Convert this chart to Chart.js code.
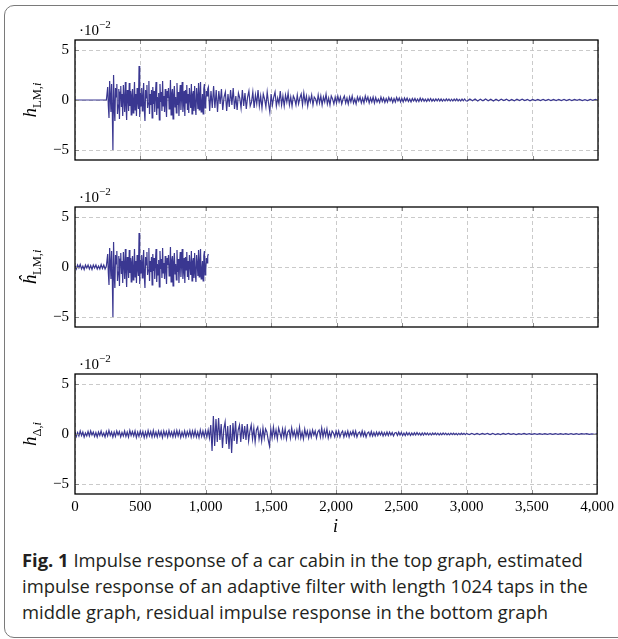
<!DOCTYPE html>
<html>
<head>
<meta charset="utf-8">
<script src="https://cdn.jsdelivr.net/npm/chart.js@4/dist/chart.umd.min.js"></script>
<style>
  html, body { margin: 0; padding: 0; background: #fff; }
  body { width: 618px; height: 639px; position: relative; overflow: hidden; }
  .frame {
    position: absolute; left: 4px; top: 5px; width: 660px; height: 631px;
    border: 1.5px solid #7a7a7a; border-radius: 10px;
  }
  canvas.panel { position: absolute; left: 0; width: 618px; }
  .math { position: absolute; font-family: "Liberation Serif", "DejaVu Serif", serif; color: #000; white-space: nowrap; }
  .scale { font-size: 15px; left: 79px; }
  .scale sup { font-size: 11px; position: relative; top: -1px; }
  .ylab { font-size: 19px; left: 32px; transform: translate(-50%, -50%) rotate(-90deg); }
  .ylab sub { font-size: 12.5px; font-style: normal; }
  .xlab { font-size: 18px; font-style: italic; left: 333px; top: 516px; }
  .caption {
    position: absolute; left: 22px; top: 547px; width: 600px;
    font-family: "Open Sans", "Noto Sans", sans-serif; font-size: 18.4px; line-height: 26px;
    color: #231f20; white-space: nowrap;
  }
  .caption b { font-weight: 700; }
</style>
</head>
<body>
<div class="frame"></div>

<canvas class="panel" id="topChart" width="618" height="150"></canvas>
<canvas class="panel" id="midChart" width="618" height="150"></canvas>
<canvas class="panel" id="botChart" width="618" height="180"></canvas>

<div class="math scale" style="top:19px">·10<sup>−2</sup></div>
<div class="math scale" style="top:186px">·10<sup>−2</sup></div>
<div class="math scale" style="top:353px">·10<sup>−2</sup></div>

<div class="math ylab" style="top:100px"><i>h</i><sub>LM,<i>i</i></sub></div>
<div class="math ylab" style="top:267px"><i>ĥ</i><sub>LM,<i>i</i></sub></div>
<div class="math ylab" style="top:434px"><i>h</i><sub>Δ,<i>i</i></sub></div>

<div class="math xlab">i</div>

<div class="caption"><b>Fig. 1</b> Impulse response of a car cabin in the top graph, estimated<br>impulse response of an adaptive filter with length 1024 taps in the<br>middle graph, residual impulse response in the bottom graph</div>

<script>
const xTicks = [0, 500, 1000, 1500, 2000, 2500, 3000, 3500, 4000];
const yTicks = [-5, 0, 5];

// top graph, taps 0..240 every 10 (silent before the direct sound)
const topPreOnset = [0, 0, 0, 0, 0, 0, 0, 0, 0, 0, 0, 0, 0, 0, 0, 0, 0, 0, 0, 0, 0, 0, 0, 0, 0];

// taps 250..1020 every 5, same shape in the top and middle graph
const onsetTaps = [
  1.3, -0.6, -1.8, 1.9, 0.4, -1.2, 1.6, -0.9, -5.0, 2.5,
  -0.8, -2.1, 1.2, 0.3, 1.6, -1.4, -0.5, 1.1, -1.9, 0.8,
  1.4, -0.7, 0.6, -1.6, 1.5, 0.2, -1.2, 1.8, -0.4, -2.0,
  1.0, 0.4, -1.1, 1.7, -0.6, 0.9, -1.5, 0.5, 1.1, -1.3,
  -0.3, 1.8, -1.0, 0.6, -1.6, 1.2, -0.2, -0.9, 3.4, -1.7,
  0.7, -0.6, 1.2, -1.1, 0.3, 1.7, -0.9, -2.1, 1.0, 0.2,
  1.5, -0.8, -0.3, 1.9, -1.4, 0.6, -0.5, 1.0, -1.8, 1.3,
  -0.4, 0.9, -1.2, 0.5, 1.8, -1.5, 0.3, -0.8, 0.7, -2.0,
  1.6, -0.2, 0.8, -1.1, 1.9, -0.6, 0.4, -1.2, 1.1, -0.3,
  -1.7, 0.9, 0.2, 1.2, -0.9, -0.4, 2.0, -1.5, 0.6, 1.1,
  -1.9, 0.5, 1.4, -0.7, 0.3, -1.3, 1.7, -0.5, 0.8, -1.6,
  0.4, 1.5, -1.0, 0.2, 1.8, -1.2, -0.4, 0.9, -1.6, 1.0,
  -0.3, 1.5, -1.0, 0.6, -1.3, 1.2, 0.1, -0.8, 1.6, -1.4,
  0.5, 0.9, -1.1, 1.4, -0.6, -1.5, 1.2, 0.3, -0.9, 1.7,
  -1.0, 0.4, 1.8, -1.2, -0.5, 0.6, -1.4, 1.1, 1.6, -0.8,
  -0.3, 0.9, 0.4, 1.1, 1.3
];

// top graph, taps 1030..2990 every 10
const topLate = [
  -1.1, 0.9, -0.8, 1.4, -0.8, 1.0, -1.2,
  0.9, -0.4, 1.1, -1.0, 0.3, 0.8, -1.1, 0.6, -0.7, 1.0,
  -0.5, 1.2, -0.9, 0.4, -1.0, 0.7, 0.2, -0.8, 1.0, -0.6,
  0.7, -0.9, 0.3, 0.9, -0.6, -0.2, 0.8, -0.8, 0.5, -0.4,
  1.0, -0.6, 0.4, -0.8, 0.6, 0.1, -0.7, 0.8, -0.3, -1.2,
  0.6, -0.5, 0.3, 0.8, -0.6, 0.2, -0.4, 0.9, -0.5, 0.4,
  -0.6, 0.5, -0.2, 0.7, -0.5, 0.3, -0.6, 0.4, 0.1, -0.5,
  0.5, -0.4, 0.2, 0.6, -0.5, 0.7, -0.3, 0.4, -0.6, 0.3,
  -0.2, 0.5, -0.5, 0.3, 0.1, -0.4, 0.5, -0.3, 0.4, -0.5,
  0.3, -0.2, 0.6, -0.4, 0.2, -0.5, 0.4, 0.1, -0.4, 0.3,
  -0.3, 0.4, -0.2, 0.3, -0.4, 0.1, 0.4, -0.3, 0.2, -0.4,
  0.3, -0.2, 0.4, -0.3, 0.1, -0.4, 0.3, -0.1, 0.3, -0.3,
  0.2, -0.3, 0.4, -0.1, 0.3, -0.3, 0.2, -0.2, 0.3, -0.3,
  0.25, -0.2, 0.1, -0.25, 0.3, -0.15, 0.2, -0.25, 0.15, -0.2,
  0.25, -0.1, 0.2, -0.25, 0.15, -0.2, 0.25, -0.1, 0.2, -0.2,
  0.15, -0.2, 0.2, -0.1, 0.2, -0.15, 0.1, -0.2, 0.15, -0.1,
  0.15, -0.15, 0.1, -0.15, 0.2, -0.1, 0.15, -0.12, 0.08, -0.15,
  0.12, -0.1, 0.15, -0.12, 0.08, -0.12, 0.12, -0.08, 0.12, -0.1,
  0.1, -0.12, 0.08, -0.1, 0.12, -0.08, 0.1, -0.1, 0.08, -0.1,
  0.1, -0.08, 0.12, -0.1, 0.06, -0.1, 0.1, -0.08, 0.1, -0.08
];

// top graph, taps 3000..4000 every 20
const topTail = [
  -0.1, 0.1, -0.08, 0.1, -0.1, 0.08, -0.08, 0.1, -0.08, 0.08,
  -0.1, 0.08, -0.08, 0.08, -0.06, 0.08, -0.08, 0.06, -0.08, 0.08,
  -0.06, 0.08, -0.06, 0.06, -0.08, 0.06, -0.06, 0.06, -0.05, 0.06,
  -0.06, 0.05, -0.06, 0.06, -0.05, 0.06, -0.05, 0.05, -0.06, 0.05,
  -0.05, 0.05, -0.04, 0.05, -0.05, 0.04, -0.05, 0.05, -0.04, 0.05,
  -0.04
];

// middle graph (estimate), taps 0..240 every 10
const midPreOnset = [
  0.1, -0.2, 0.2, -0.1, 0.25, -0.2, 0.1, -0.25, 0.2, -0.1,
  0.2, -0.2, 0.15, -0.25, 0.2, -0.1, 0.2, -0.2, 0.1, -0.2,
  0.25, -0.15, 0.2, -0.2, 0.1
];

// bottom graph (residual), taps 0..1090 every 10
const resEarly = [
  0.2, -0.25, 0.15, -0.2, 0.3, -0.15, 0.2, -0.3, 0.1, -0.2,
  0.25, -0.2, 0.3, -0.1, 0.2, -0.25, 0.15, -0.3, 0.2, -0.15,
  0.3, -0.2, 0.1, -0.3, 0.25, -0.2, 0.35, -0.15, 0.2, -0.3,
  0.2, -0.25, 0.3, -0.1, 0.25, -0.3, 0.15, -0.2, 0.3, -0.25,
  0.2, -0.3, 0.35, -0.15, 0.25, -0.2, 0.3, -0.35, 0.2, -0.25,
  0.3, -0.2, 0.25, -0.35, 0.2, -0.3, 0.35, -0.2, 0.25, -0.3,
  0.35, -0.25, 0.2, -0.3, 0.3, -0.2, 0.25, -0.35, 0.3, -0.2,
  0.25, -0.3, 0.35, -0.2, 0.2, -0.3, 0.3, -0.25, 0.35, -0.2,
  0.3, -0.35, 0.2, -0.25, 0.3, -0.3, 0.25, -0.2, 0.35, -0.3,
  0.3, -0.25, 0.35, -0.3, 0.2, -0.35, 0.4, -0.25, 0.3, -0.3,
  0.35, -0.3, 0.4,
  -0.4, 0.9, -1.7, 1.8, -1.2, 1.5, -0.8
];

// bottom graph (residual), taps 1100..2990 every 10
const resLate = [
  1.6, -0.6, 1.0, -1.4, 0.5, 1.2, -1.0, 0.8, -1.5, 0.9,
  -1.9, 1.1, -0.7, 1.3, -1.0, 0.4, 0.9, -0.8, 1.0, -0.5,
  0.8, -0.6, 1.0, -0.7, 0.3, 0.9, -0.5, 0.6, -0.8, 0.4,
  0.7, -0.5, 0.3, -0.7, 0.6, -0.4, 0.5, 0.2, -0.6, -1.2,
  0.5, -0.4, 0.7, -0.3, 0.4, -0.5, 0.6, 0.1, -0.4, 0.5,
  -0.3, 0.5, -0.5, 0.2, 0.4, -0.4, 0.6, -0.2, 0.3, -0.4,
  0.4, -0.3, 0.7, -0.4, 0.2, -0.5, 0.5, -0.2, 0.3, -0.4,
  0.3, -0.3, 0.4, -0.1, 0.3, -0.4, 0.2, 0.4, -0.3, 0.6,
  -0.3, 0.4, -0.2, 0.5, -0.4, 0.2, -0.3, 0.3, 0.1, -0.3,
  0.3, -0.2, 0.3, -0.3, 0.1, 0.3, -0.3, 0.2, -0.2, 0.3,
  -0.3, 0.2, -0.1, 0.3, -0.2, 0.3, -0.3, 0.1, 0.2, -0.2,
  0.3, -0.2, 0.2, -0.3, 0.1, 0.2, -0.2, 0.25, -0.2, 0.15,
  -0.2, 0.2, -0.15, 0.2, -0.1, 0.2, -0.2, 0.15, -0.15, 0.2,
  -0.15, 0.2, -0.1, 0.15, -0.2, 0.1, 0.15, -0.15, 0.2, -0.1,
  0.15, -0.15, 0.1, -0.15, 0.15, -0.1, 0.12, -0.15, 0.1, -0.1,
  0.12, -0.1, 0.15, -0.08, 0.1, -0.12, 0.1, -0.1, 0.12, -0.08,
  0.1, -0.1, 0.08, -0.1, 0.1, -0.06, 0.1, -0.08, 0.08, -0.1,
  0.08, -0.08, 0.1, -0.06, 0.08, -0.08, 0.06, -0.08, 0.08, -0.06,
  0.08, -0.06, 0.06, -0.08, 0.06, -0.06, 0.08, -0.05, 0.06, -0.06
];

// bottom graph (residual), taps 3000..4000 every 20
const resTail = [
  0.06, -0.05, 0.06, -0.06, 0.05, -0.05, 0.06, -0.04, 0.05, -0.05,
  0.05, -0.05, 0.04, -0.05, 0.05, -0.04, 0.05, -0.04, 0.04, -0.05,
  0.04, -0.04, 0.05, -0.04, 0.04, -0.04, 0.03, -0.04, 0.04, -0.03,
  0.04, -0.03, 0.04, -0.04, 0.03, -0.03, 0.04, -0.03, 0.03, -0.03,
  0.03, -0.03, 0.03, -0.03, 0.03, -0.02, 0.03, -0.03, 0.02, -0.03,
  0.02
];

const LINE_COLOR = '#3a3791';
const AREA_HEIGHT = 120;

// turn [firstTap, step, values] pieces into {x, y} points
function toPoints(...pieces) {
  const pts = [];
  pieces.forEach(([start, step, values]) => {
    values.forEach((v, k) => pts.push({ x: start + k * step, y: v }));
  });
  return pts;
}

// box round the plot area plus the small solid tick marks on its edges
const frameBox = {
  id: 'frameBox',
  afterDraw(chart) {
    const { ctx, chartArea: a, scales } = chart;
    ctx.save();
    ctx.strokeStyle = '#8a8a8a';
    ctx.lineWidth = 1;
    ctx.beginPath();
    xTicks.slice(1, -1).forEach(v => {
      const px = Math.round(scales.x.getPixelForValue(v)) + 0.5;
      ctx.moveTo(px, a.bottom); ctx.lineTo(px, a.bottom - 4);
      ctx.moveTo(px, a.top); ctx.lineTo(px, a.top + 4);
    });
    yTicks.forEach(v => {
      const py = Math.round(scales.y.getPixelForValue(v)) + 0.5;
      ctx.moveTo(a.left, py); ctx.lineTo(a.left + 4, py);
      ctx.moveTo(a.right, py); ctx.lineTo(a.right - 4, py);
    });
    ctx.stroke();
    ctx.strokeStyle = '#000';
    ctx.lineWidth = 1.3;
    ctx.strokeRect(a.left, a.top, a.right - a.left, a.bottom - a.top);
    ctx.restore();
  }
};

function makePanel(canvas, points, showX) {
  const tickFont = { family: '"Liberation Serif", "DejaVu Serif", serif', size: 15 };
  return new Chart(canvas, {
    type: 'line',
    data: {
      datasets: [{
        data: points,
        borderColor: LINE_COLOR,
        borderWidth: 1.2,
        pointRadius: 0,
        tension: 0,
        fill: false
      }]
    },
    options: {
      responsive: false,
      animation: false,
      events: [],
      layout: { padding: { left: 0, right: 20, top: 10, bottom: 0 } },
      plugins: { legend: { display: false }, tooltip: { enabled: false } },
      scales: {
        x: {
          type: 'linear',
          min: 0,
          max: 4000,
          afterBuildTicks: axis => { axis.ticks = xTicks.map(v => ({ value: v })); },
          afterFit: axis => { axis.height = showX ? 40 : 10; },
          border: { display: false, dash: [4, 3] },
          grid: { color: '#c4c4c4', lineWidth: 0.9, drawTicks: false },
          ticks: {
            display: showX,
            color: '#000',
            font: tickFont,
            padding: 4,
            maxRotation: 0,
            callback: v => v.toLocaleString('en-US')
          }
        },
        y: {
          min: -6,
          max: 6,
          afterBuildTicks: axis => { axis.ticks = yTicks.map(v => ({ value: v })); },
          afterFit: axis => { axis.width = 75; },
          border: { display: false, dash: [4, 3] },
          grid: { color: '#c4c4c4', lineWidth: 0.9, drawTicks: false },
          ticks: {
            color: '#000',
            font: tickFont,
            padding: 6,
            callback: v => v < 0 ? '\u2212' + Math.abs(v) : String(v)
          }
        }
      }
    },
    plugins: [frameBox]
  });
}

// draw once, then resize the canvas so the plot box is AREA_HEIGHT tall and sits at areaTop
function placePanel(id, points, showX, areaTop) {
  const canvas = document.getElementById(id);
  canvas.style.height = canvas.height + 'px';
  let chart = makePanel(canvas, points, showX);
  const a = chart.chartArea;
  const h = Math.round(canvas.height + AREA_HEIGHT - (a.bottom - a.top));
  chart.destroy();
  canvas.height = h;
  canvas.width = 618;
  canvas.style.height = h + 'px';
  chart = makePanel(canvas, points, showX);
  canvas.style.top = Math.round(areaTop - chart.chartArea.top) + 'px';
  return chart;
}

const topPoints = toPoints([0, 10, topPreOnset], [250, 5, onsetTaps], [1030, 10, topLate], [3000, 20, topTail]);
const midPoints = toPoints([0, 10, midPreOnset], [250, 5, onsetTaps]);
const resPoints = toPoints([0, 10, resEarly], [1100, 10, resLate], [3000, 20, resTail]);

placePanel('topChart', topPoints, false, 40);
placePanel('midChart', midPoints, false, 207);
placePanel('botChart', resPoints, true, 374);
</script>
</body>
</html>
